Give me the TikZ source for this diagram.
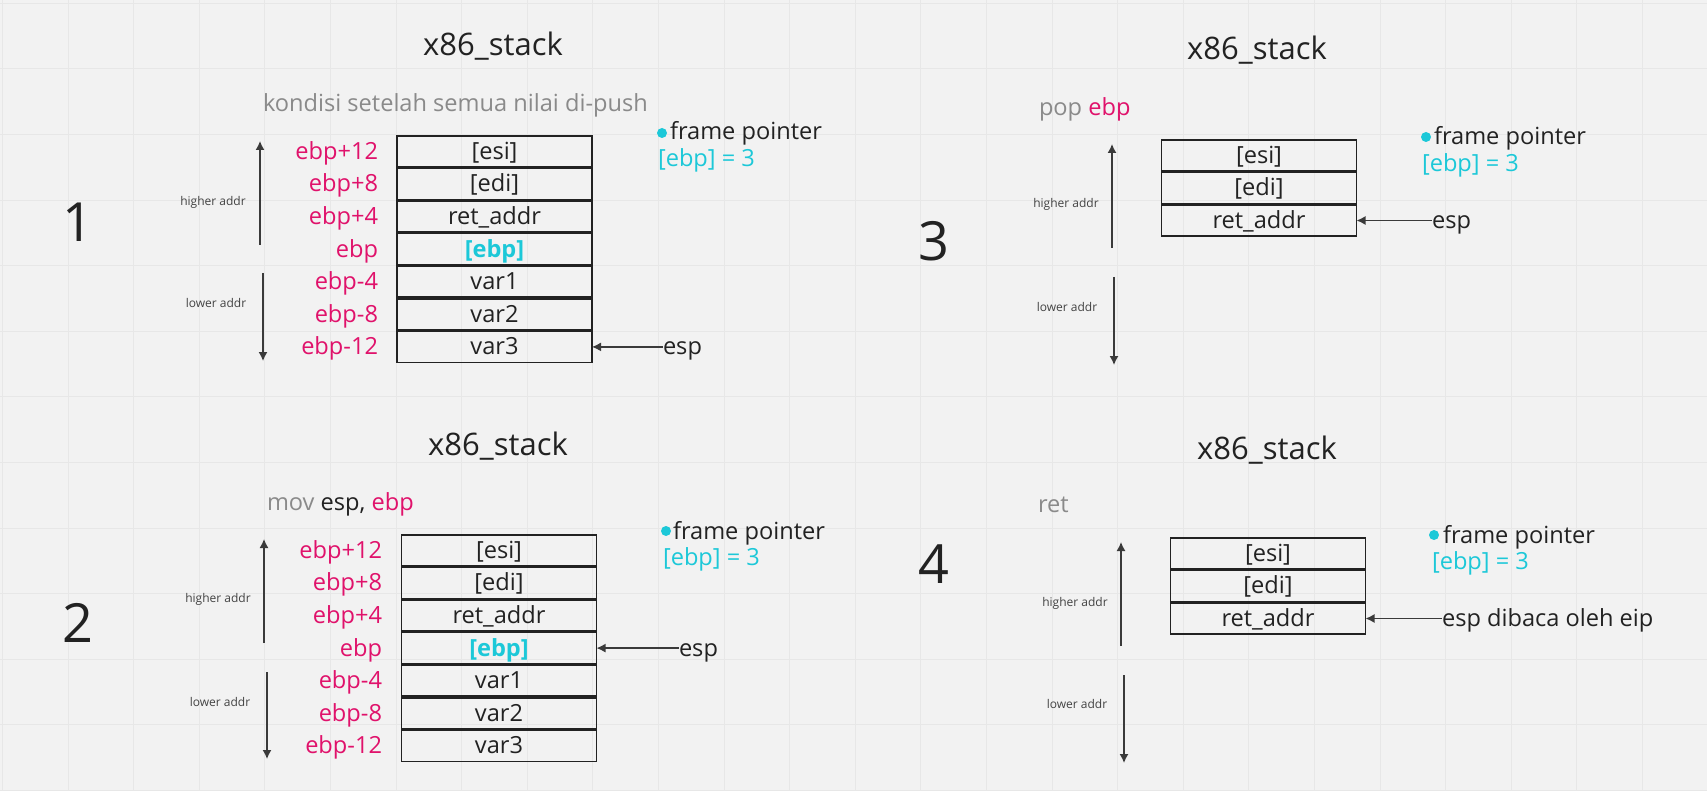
\documentclass[tikz,border=0pt]{standalone}
\usepackage{fontspec}
\setmainfont{Open Sans}
\usetikzlibrary{arrows.meta}
\definecolor{bg}{HTML}{F2F2F2}
\definecolor{gridc}{HTML}{E7E7E7}
\definecolor{pk}{HTML}{E0126B}
\definecolor{cy}{HTML}{1CC8D8}
\definecolor{gr}{HTML}{8A8A8A}
\definecolor{ink}{HTML}{222222}
\definecolor{arr}{HTML}{3A3A3A}
\newcommand\mycell[5]{\node[cell] (#1) at (#2,{#3+16.3+32.6*#4}) {#5};}
\newcommand\mylbl[5]{\node[lbl] (#1) at (#2,{#3+16.3+32.6*#4}) {#5};}
\newcommand\txtfont{\fontsize{23.6}{28}\selectfont}
\begin{document}
\begin{tikzpicture}[x=1pt,y=-1pt,
  every node/.style={inner sep=0pt,outer sep=0pt},
  cell/.style={draw=ink,line width=1.5pt,minimum width=195pt,minimum height=31pt,
    font=\txtfont,text=ink,text height=16pt,text depth=0pt},
  lbl/.style={anchor=east,text=pk,font=\txtfont,text height=16pt,text depth=0pt},
  esptxt/.style={anchor=west,text=ink,font=\txtfont,text height=16pt,text depth=0pt},
  ttl/.style={anchor=base,text=ink,font=\fontsize{31}{36}\selectfont},
  sub/.style={anchor=base west,text=gr,font=\txtfont},
  num/.style={anchor=base,text=ink,font=\fontsize{54}{60}\selectfont},
  small/.style={text=ink!85,font=\fontsize{12}{14}\selectfont},
  fp/.style={anchor=base west,text=ink,font=\txtfont},
  fpv/.style={anchor=base west,text=cy,font=\txtfont},
  dot/.style={circle,fill=cy,minimum size=10pt},
  addr/.style={draw=arr,line width=1.4pt,-{Latex[length=9pt,width=9pt]}},
  gridline/.style={draw=gridc,line width=1pt}
]
\useasboundingbox (0,0) rectangle (1707,791);
\fill[bg] (0,0) rectangle (1707,791);
\foreach \k in {0,...,26} \draw[gridline] (2.4+65.6*\k,0) -- (2.4+65.6*\k,791);
\foreach \k in {0,...,12} \draw[gridline] (0,3.3+65.6*\k) -- (1707,3.3+65.6*\k);

% ---------------- Panel 1 ----------------
\node[ttl] (t1) at (493,56) {x86\_stack};
\node[sub] (s1) at (263,112) {kondisi setelah semua nilai di-push};
\node[num] (n1) at (78,242) {1};
\mycell{p1c1}{494.5}{135}{0}{[esi]}
\mycell{p1c2}{494.5}{135}{1}{[edi]}
\mycell{p1c3}{494.5}{135}{2}{ret\_addr}
\mycell{p1c4}{494.5}{135}{3}{\textbf{\color{cy}[ebp]}}
\mycell{p1c5}{494.5}{135}{4}{var1}
\mycell{p1c6}{494.5}{135}{5}{var2}
\mycell{p1c7}{494.5}{135}{6}{var3}
\mylbl{p1l1}{378}{135}{0}{ebp+12}
\mylbl{p1l2}{378}{135}{1}{ebp+8}
\mylbl{p1l3}{378}{135}{2}{ebp+4}
\mylbl{p1l4}{378}{135}{3}{ebp}
\mylbl{p1l5}{378}{135}{4}{ebp-4}
\mylbl{p1l6}{378}{135}{5}{ebp-8}
\mylbl{p1l7}{378}{135}{6}{ebp-12}
\node[small] (h1) at (213,202) {higher addr};
\node[small] (w1) at (216,303) {lower addr};
\coordinate (u1a) at (260,245); \coordinate (u1b) at (260,141);
\coordinate (d1a) at (263,273); \coordinate (d1b) at (263,361);
\draw[addr] (u1a) -- (u1b);
\draw[addr] (d1a) -- (d1b);
\node[esptxt] (e1) at (663,{135+16.3+32.6*6}) {esp};
\draw[addr] (e1.west) -- (p1c7.east);
\node[dot] (fd1) at (662,133) {};
\node[fp] (f1) at (670,140) {frame pointer};
\node[fpv] (v1) at (658,167) {[ebp] = 3};

% ---------------- Panel 2 ----------------
\node[ttl] (t2) at (498,455) {x86\_stack};
\node[sub] (s2) at (267,510) {mov \textcolor{ink}{esp,} \textcolor{pk}{ebp}};
\node[num] (n2) at (78,642) {2};
\mycell{p2c1}{499}{534}{0}{[esi]}
\mycell{p2c2}{499}{534}{1}{[edi]}
\mycell{p2c3}{499}{534}{2}{ret\_addr}
\mycell{p2c4}{499}{534}{3}{\textbf{\color{cy}[ebp]}}
\mycell{p2c5}{499}{534}{4}{var1}
\mycell{p2c6}{499}{534}{5}{var2}
\mycell{p2c7}{499}{534}{6}{var3}
\mylbl{p2l1}{382}{534}{0}{ebp+12}
\mylbl{p2l2}{382}{534}{1}{ebp+8}
\mylbl{p2l3}{382}{534}{2}{ebp+4}
\mylbl{p2l4}{382}{534}{3}{ebp}
\mylbl{p2l5}{382}{534}{4}{ebp-4}
\mylbl{p2l6}{382}{534}{5}{ebp-8}
\mylbl{p2l7}{382}{534}{6}{ebp-12}
\node[small] (h2) at (218,599) {higher addr};
\node[small] (w2) at (220,702) {lower addr};
\coordinate (u2a) at (264,643); \coordinate (u2b) at (264,539);
\coordinate (d2a) at (267,672); \coordinate (d2b) at (267,759);
\draw[addr] (u2a) -- (u2b);
\draw[addr] (d2a) -- (d2b);
\node[esptxt] (e2) at (679,{534+16.3+32.6*3}) {esp};
\draw[addr] (e2.west) -- (p2c4.east);
\node[dot] (fd2) at (666,531) {};
\node[fp] (f2) at (673,539) {frame pointer};
\node[fpv] (v2) at (663,565) {[ebp] = 3};

% ---------------- Panel 3 ----------------
\node[ttl] (t3) at (1257,60) {x86\_stack};
\node[sub] (s3) at (1039,116) {pop \textcolor{pk}{ebp}};
\node[num] (n3) at (934,261) {3};
\mycell{p3c1}{1259}{139}{0}{[esi]}
\mycell{p3c2}{1259}{139}{1}{[edi]}
\mycell{p3c3}{1259}{139}{2}{ret\_addr}
\node[small] (h3) at (1066,204) {higher addr};
\node[small] (w3) at (1067,307) {lower addr};
\coordinate (u3a) at (1112,248); \coordinate (u3b) at (1112,144);
\coordinate (d3a) at (1114,277); \coordinate (d3b) at (1114,365);
\draw[addr] (u3a) -- (u3b);
\draw[addr] (d3a) -- (d3b);
\node[esptxt] (e3) at (1432,{139+16.3+32.6*2}) {esp};
\draw[addr] (e3.west) -- (p3c3.east);
\node[dot] (fd3) at (1426,137) {};
\node[fp] (f3) at (1434,144.4) {frame pointer};
\node[fpv] (v3) at (1422,171.4) {[ebp] = 3};

% ---------------- Panel 4 ----------------
\node[ttl] (t4) at (1267,459) {x86\_stack};
\node[sub] (s4) at (1038,512) {ret};
\node[num] (n4) at (934,583) {4};
\mycell{p4c1}{1268}{537}{0}{[esi]}
\mycell{p4c2}{1268}{537}{1}{[edi]}
\mycell{p4c3}{1268}{537}{2}{ret\_addr}
\node[small] (h4) at (1075,603) {higher addr};
\node[small] (w4) at (1077,704) {lower addr};
\coordinate (u4a) at (1121,646); \coordinate (u4b) at (1121,542);
\coordinate (d4a) at (1124,675); \coordinate (d4b) at (1124,763);
\draw[addr] (u4a) -- (u4b);
\draw[addr] (d4a) -- (d4b);
\node[esptxt] (e4) at (1442,{537+16.3+32.6*2}) {esp dibaca oleh eip};
\draw[addr] (e4.west) -- (p4c3.east);
\node[dot] (fd4) at (1434,535) {};
\node[fp] (f4) at (1443,543) {frame pointer};
\node[fpv] (v4) at (1432,569) {[ebp] = 3};
\end{tikzpicture}
\end{document}
